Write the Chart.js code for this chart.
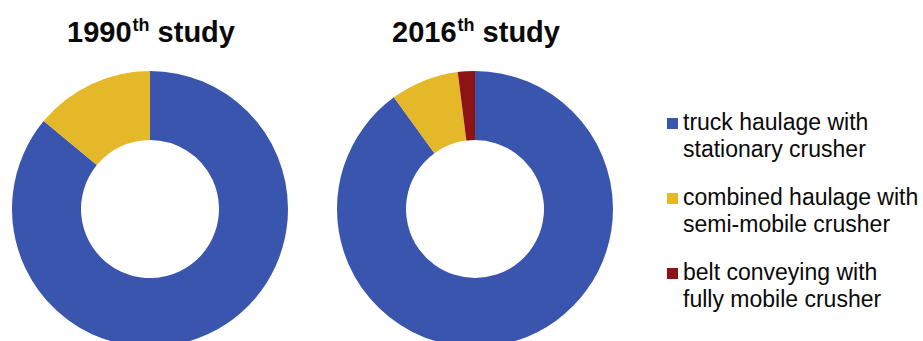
<!DOCTYPE html>
<html>
<head>
<meta charset="utf-8">
<script src="https://cdn.jsdelivr.net/npm/chart.js@4/dist/chart.umd.min.js"></script>
<style>
  html, body {
    margin: 0;
    padding: 0;
    background: #fff;
    width: 923px;
    height: 341px;
    overflow: hidden;
    font-family: "Liberation Sans", Arial, sans-serif;
  }
  .title {
    position: absolute;
    top: 18px;
    width: 240px;
    text-align: center;
    font-size: 29px;
    line-height: 29px;
    font-weight: bold;
    color: #0a0a0a;
  }
  .title sup {
    font-size: 18px;
    vertical-align: baseline;
    position: relative;
    top: -11px;
    margin-left: 1px;
  }
  .donut {
    position: absolute;
    top: 71px;
  }
  #legend {
    position: absolute;
    left: 667px;
    top: 109px;
  }
  .item {
    position: relative;
    padding-left: 16px;
    margin-bottom: 21px;
    font-size: 23px;
    line-height: 27px;
    color: #0a0a0a;
  }
  .swatch {
    position: absolute;
    left: 0;
    top: 9px;
    width: 11px;
    height: 11px;
  }
</style>
</head>
<body>
<div id="t1990" class="title" style="left:31px"></div>
<div id="t2016" class="title" style="left:356px"></div>
<canvas id="c1990" class="donut" width="276" height="276" style="left:12px"></canvas>
<canvas id="c2016" class="donut" width="276" height="276" style="left:337px"></canvas>
<div id="legend"></div>

<script>
  const studies = ["1990", "2016"];
  const categories = [
    ["truck haulage with", "stationary crusher"],
    ["combined haulage with", "semi-mobile crusher"],
    ["belt conveying with", "fully mobile crusher"],
  ];
  const share1990 = [86, 14, 0];
  const share2016 = [90, 8, 2];
  const colors = ["#3955ae", "#e5b829", "#8e1315"];

  const makeDonut = (id, values) =>
    new Chart(document.getElementById(id), {
      type: "doughnut",
      data: {
        labels: categories.map((c) => c.join(" ")),
        datasets: [
          {
            data: values,
            backgroundColor: colors,
            borderWidth: 0,
          },
        ],
      },
      options: {
        responsive: false,
        animation: false,
        cutout: "50%",
        layout: { padding: 0 },
        plugins: {
          legend: { display: false },
          tooltip: { enabled: false },
        },
      },
    });

  makeDonut("c1990", share1990);
  makeDonut("c2016", share2016);

  studies.forEach((year) => {
    document.getElementById("t" + year).innerHTML = `${year}<sup>th</sup> study`;
  });

  const legend = document.getElementById("legend");
  legend.innerHTML = categories
    .map(
      (lines, i) => `
        <div class="item">
          <span class="swatch" style="background:${colors[i]}"></span>
          ${lines.join("<br>")}
        </div>`
    )
    .join("");
</script>
</body>
</html>
